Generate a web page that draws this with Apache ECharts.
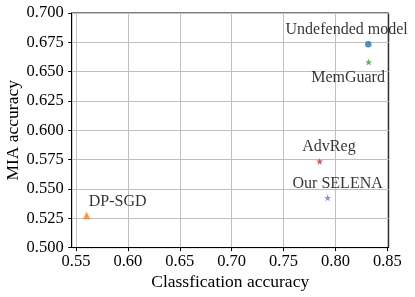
<!DOCTYPE html>
<html><head><meta charset="utf-8">
<script src="https://cdn.jsdelivr.net/npm/echarts@6/dist/echarts.min.js"></script>
<style>html,body{margin:0;padding:0;background:#fff}#c{width:415px;height:297px}</style>
</head><body><div id="c"></div>
<script>
const names = ["Undefended model", "MemGuard", "AdvReg", "Our SELENA", "DP-SGD"];
const classAcc = [0.8316, 0.832, 0.7848, 0.7925, 0.5603];
const miaAcc = [0.6733, 0.6582, 0.5735, 0.5424, 0.5274];
const xTicks = [0.55, 0.60, 0.65, 0.70, 0.75, 0.80, 0.85];
const yTicks = [0.500, 0.525, 0.550, 0.575, 0.600, 0.625, 0.650, 0.675, 0.700];

const colors = ["#1f77b4", "#2ca02c", "#d62728", "#9467bd", "#ff7f0e"];
const star = "path://M0,-1 L0.2245,-0.309 L0.951,-0.309 L0.3633,0.118 L0.5878,0.809 L0,0.382 L-0.5878,0.809 L-0.3633,0.118 L-0.951,-0.309 L-0.2245,-0.309 Z";
const symbols = ["circle", star, star, star, "triangle"];
const sizes = [6.5, 7, 7, 7, 7.5];
const labelOffsets = [[-21.6, -14.3], [-20.6, 15.7], [9.3, -14.4], [10, -14.4], [31, -13.6]];
const font = "'Liberation Serif', 'Times New Roman', serif";

const series = names.map((n, i) => ({
  type: 'scatter',
  name: n,
  data: [[classAcc[i], miaAcc[i]]],
  symbol: symbols[i],
  symbolSize: sizes[i],
  itemStyle: { color: colors[i] },
  label: {
    show: true, formatter: n, position: 'inside', offset: labelOffsets[i],
    fontFamily: font, fontSize: 16, color: '#000'
  }
}));

const chart = echarts.init(document.getElementById('c'), null, { renderer: 'canvas' });
chart.setOption({
  animation: false,
  grid: { left: 71.7, right: 26.3, top: 13, bottom: 49.4, containLabel: false, outerBoundsMode: 'none', show: true, borderColor: '#000', borderWidth: 1 },
  xAxis: {
    type: 'value', min: 0.5459, max: 0.8513,
    name: 'Classfication accuracy', nameLocation: 'middle', nameGap: 25.5, nameMoveOverlap: false,
    nameTextStyle: { fontFamily: font, fontSize: 17.5, color: '#000' },
    axisLine: { show: true, onZero: false, lineStyle: { color: '#000' } },
    axisTick: { show: true, length: 3.5, lineStyle: { color: '#000' }, customValues: xTicks },
    axisLabel: { fontFamily: font, fontSize: 16.5, color: '#000', margin: 5.5, customValues: xTicks, formatter: v => v.toFixed(2) },
    splitLine: { show: true, lineStyle: { color: '#c0c0c0', width: 1 } }
  },
  yAxis: {
    type: 'value', min: 0.5, max: 0.7,
    name: 'MIA accuracy', nameLocation: 'middle', nameGap: 49, nameMoveOverlap: false,
    nameTextStyle: { fontFamily: font, fontSize: 17.5, color: '#000' },
    axisLine: { show: true, onZero: false, lineStyle: { color: '#000' } },
    axisTick: { show: true, length: 3.5, lineStyle: { color: '#000' }, customValues: yTicks },
    axisLabel: { fontFamily: font, fontSize: 16.5, color: '#000', margin: 8, customValues: yTicks, formatter: v => v.toFixed(3) },
    splitLine: { show: true, lineStyle: { color: '#c0c0c0', width: 1 } }
  },
  series: series
});
</script></body></html>
